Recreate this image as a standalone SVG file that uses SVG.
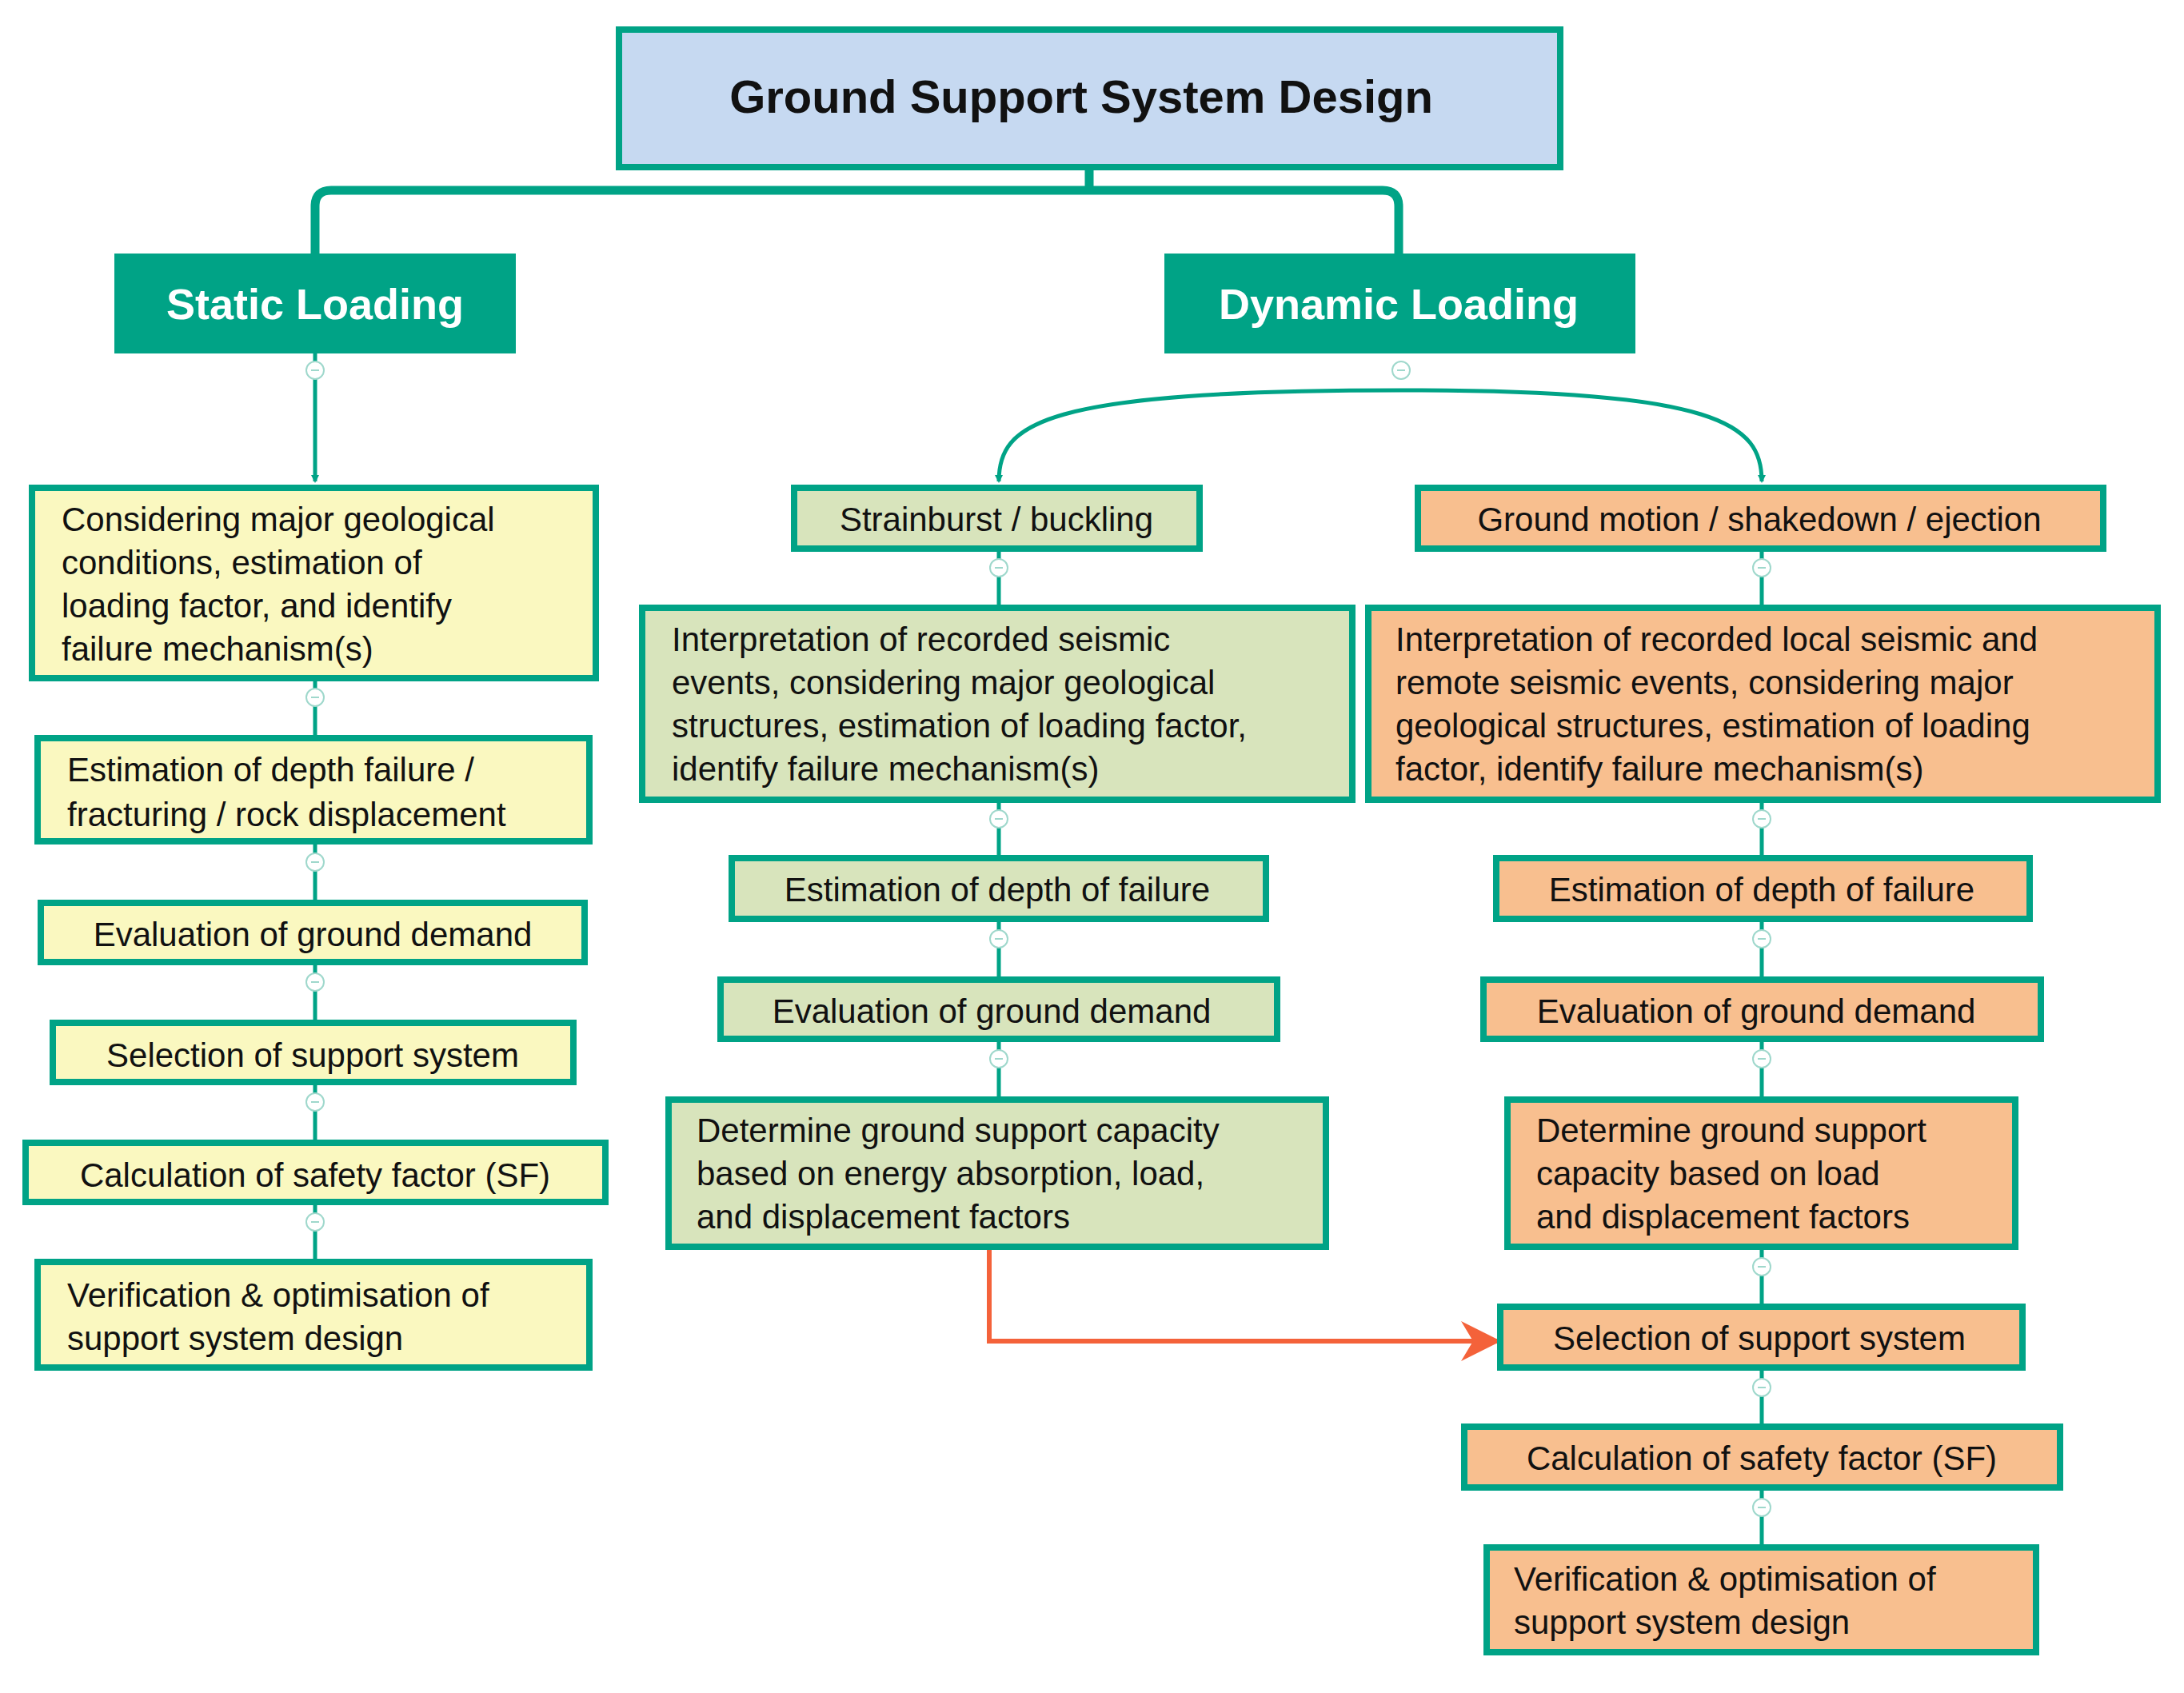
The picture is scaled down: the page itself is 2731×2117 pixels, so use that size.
<svg xmlns="http://www.w3.org/2000/svg" width="2731" height="2117" viewBox="0 0 2731 2117">
<style>
.b{stroke:#00A386;stroke-width:8}
.y{fill:#FAF8C0}.g{fill:#D8E4BC}.o{fill:#F8BF8F}
.t{font-family:"Liberation Sans",Arial,sans-serif;font-size:42px;fill:#111}
.c{text-anchor:middle}
.h{font-family:"Liberation Sans",Arial,sans-serif;font-weight:bold;fill:#fff;font-size:54px;text-anchor:middle}
.ln{stroke:#00A386;stroke-width:5;fill:none}
.k{fill:#fff;stroke:#9FD8CC;stroke-width:2}
</style>
<defs>
<marker id="ah" markerWidth="10" markerHeight="10" refX="8" refY="5" orient="auto" markerUnits="userSpaceOnUse"><path d="M0,0 L10,5 L0,10 Z" fill="#00A386"/></marker>
<marker id="ao" viewBox="0 0 10 10" markerWidth="50" markerHeight="50" refX="9" refY="5" orient="auto" markerUnits="userSpaceOnUse"><path d="M0,0 L10,5 L0,10 L3,5 Z" fill="#F4623A"/></marker>
<g id="knob"><circle r="11" class="k"/><line x1="-5" x2="5" stroke="#9FD8CC" stroke-width="2"/></g>
</defs>
<rect width="2731" height="2117" fill="#fff"/>
<g id="connectors">
<path d="M1362,211 V238 M394,317 V258 Q394,238 414,238 H1729 Q1749,238 1749,258 V317" stroke="#00A386" stroke-width="11" fill="none"/>
<path class="ln" d="M394,442 V602" marker-end="url(#ah)"/>
<path class="ln" d="M1752,488 C1300,488 1249,530 1249,602" marker-end="url(#ah)"/>
<path class="ln" d="M1752,488 C2150,488 2203,530 2203,602" marker-end="url(#ah)"/>
<path class="ln" d="M394,850V921 M394,1054V1127 M394,1205V1277 M394,1355V1427 M394,1505V1576"/>
<path class="ln" d="M1249,688V758 M1249,1002V1071 M1249,1151V1223 M1249,1301V1373"/>
<path class="ln" d="M2203,688V758 M2203,1002V1071 M2203,1151V1223 M2203,1301V1373 M2203,1561V1632 M2203,1712V1782 M2203,1862V1933"/>
<path d="M1237,1561 V1677 H1872" stroke="#F4623A" stroke-width="6" fill="none" marker-end="url(#ao)"/>
<use href="#knob" x="394" y="463"/><use href="#knob" x="1752" y="463"/>
<use href="#knob" x="394" y="872"/><use href="#knob" x="394" y="1078"/><use href="#knob" x="394" y="1228"/><use href="#knob" x="394" y="1378"/><use href="#knob" x="394" y="1528"/>
<use href="#knob" x="1249" y="710"/><use href="#knob" x="1249" y="1024"/><use href="#knob" x="1249" y="1174"/><use href="#knob" x="1249" y="1324"/>
<use href="#knob" x="2203" y="710"/><use href="#knob" x="2203" y="1024"/><use href="#knob" x="2203" y="1174"/><use href="#knob" x="2203" y="1324"/><use href="#knob" x="2203" y="1584"/><use href="#knob" x="2203" y="1735"/><use href="#knob" x="2203" y="1885"/>
</g>
<g id="title"><rect x="774" y="37" width="1177" height="172" fill="#C6D9F1" class="b"/><text x="1352" y="141" class="t c" style="font-weight:bold;font-size:58px">Ground Support System Design</text></g>
<g id="static"><rect x="143" y="317" width="502" height="125" fill="#00A386"/><text x="394" y="399" class="h">Static Loading</text></g>
<g id="dynamic"><rect x="1456" y="317" width="589" height="125" fill="#00A386"/><text x="1749" y="399" class="h">Dynamic Loading</text></g>

<g id="s1"><rect x="40" y="610" width="705" height="238" class="b y"/><text class="t"><tspan x="77" y="664">Considering major geological</tspan><tspan x="77" y="718">conditions, estimation of</tspan><tspan x="77" y="772">loading factor, and identify</tspan><tspan x="77" y="826">failure mechanism(s)</tspan></text></g>
<g id="s2"><rect x="47" y="923" width="690" height="129" class="b y"/><text class="t"><tspan x="84" y="977">Estimation of depth failure /</tspan><tspan x="84" y="1033">fracturing / rock displacement</tspan></text></g>
<g id="s3"><rect x="51" y="1129" width="680" height="74" class="b y"/><text x="391" y="1183" class="t c">Evaluation of ground demand</text></g>
<g id="s4"><rect x="66" y="1279" width="651" height="74" class="b y"/><text x="391" y="1334" class="t c">Selection of support system</text></g>
<g id="s5"><rect x="32" y="1429" width="725" height="74" class="b y"/><text x="394" y="1484" class="t c">Calculation of safety factor (SF)</text></g>
<g id="s6"><rect x="47" y="1578" width="690" height="132" class="b y"/><text class="t"><tspan x="84" y="1634">Verification &amp; optimisation of</tspan><tspan x="84" y="1688">support system design</tspan></text></g>

<g id="m1"><rect x="993" y="610" width="507" height="76" class="b g"/><text x="1246" y="664" class="t c">Strainburst / buckling</text></g>
<g id="m2"><rect x="803" y="760" width="888" height="240" class="b g"/><text class="t"><tspan x="840" y="814">Interpretation of recorded seismic</tspan><tspan x="840" y="868">events, considering major geological</tspan><tspan x="840" y="922">structures, estimation of loading factor,</tspan><tspan x="840" y="976">identify failure mechanism(s)</tspan></text></g>
<g id="m3"><rect x="915" y="1073" width="668" height="76" class="b g"/><text x="1247" y="1127" class="t c">Estimation of depth of failure</text></g>
<g id="m4"><rect x="901" y="1225" width="696" height="74" class="b g"/><text x="1240" y="1279" class="t c">Evaluation of ground demand</text></g>
<g id="m5"><rect x="836" y="1375" width="822" height="184" class="b g"/><text class="t"><tspan x="871" y="1428">Determine ground support capacity</tspan><tspan x="871" y="1482">based on energy absorption, load,</tspan><tspan x="871" y="1536">and displacement factors</tspan></text></g>

<g id="r1"><rect x="1773" y="610" width="857" height="76" class="b o"/><text x="2200" y="664" class="t c">Ground motion / shakedown / ejection</text></g>
<g id="r2"><rect x="1711" y="760" width="987" height="240" class="b o"/><text class="t"><tspan x="1745" y="814">Interpretation of recorded local seismic and</tspan><tspan x="1745" y="868">remote seismic events, considering major</tspan><tspan x="1745" y="922">geological structures, estimation of loading</tspan><tspan x="1745" y="976">factor, identify failure mechanism(s)</tspan></text></g>
<g id="r3"><rect x="1871" y="1073" width="667" height="76" class="b o"/><text x="2203" y="1127" class="t c">Estimation of depth of failure</text></g>
<g id="r4"><rect x="1855" y="1225" width="697" height="74" class="b o"/><text x="2196" y="1279" class="t c">Evaluation of ground demand</text></g>
<g id="r5"><rect x="1885" y="1375" width="635" height="184" class="b o"/><text class="t"><tspan x="1921" y="1428">Determine ground support</tspan><tspan x="1921" y="1482">capacity based on  load</tspan><tspan x="1921" y="1536">and displacement factors</tspan></text></g>
<g id="r6"><rect x="1876" y="1634" width="653" height="76" class="b o"/><text x="2200" y="1688" class="t c">Selection of support system</text></g>
<g id="r7"><rect x="1831" y="1784" width="745" height="76" class="b o"/><text x="2203" y="1838" class="t c">Calculation of safety factor (SF)</text></g>
<g id="r8"><rect x="1859" y="1935" width="687" height="131" class="b o"/><text class="t"><tspan x="1893" y="1989">Verification &amp; optimisation of</tspan><tspan x="1893" y="2043">support system design</tspan></text></g>
</svg>
